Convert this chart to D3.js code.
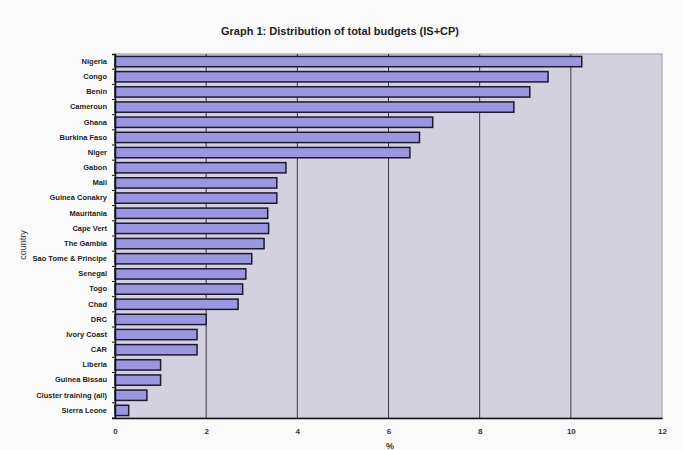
<!DOCTYPE html>
<html><head><meta charset="utf-8">
<script src="https://cdn.jsdelivr.net/npm/d3@7"></script>
<style>body{margin:0;background:#fbfafa;}svg{display:block;font-family:"Liberation Sans",Arial,sans-serif;}</style>
</head><body><svg id="c" width="683" height="450"></svg>
<script>
const countries = ["Nigeria","Congo","Benin","Cameroun","Ghana","Burkina Faso","Niger","Gabon","Mali","Guinea Conakry","Mauritania","Cape Vert","The Gambia","Sao Tome & Principe","Senegal","Togo","Chad","DRC","Ivory Coast","CAR","Liberia","Guinea Bissau","Cluster training (all)","Sierra Leone"];
const values = [10.24,9.5,9.1,8.75,6.97,6.68,6.47,3.75,3.55,3.55,3.35,3.37,3.27,3.0,2.87,2.8,2.7,2.0,1.8,1.8,1.0,1.0,0.7,0.3];
const xTicks = [0,2,4,6,8,10,12];

const svg = d3.select("#c");
const m = {l:115, r:662, t:54, b:418};
const x = d3.scaleLinear().domain([0,12]).range([m.l, m.r]);
const y = d3.scaleBand().domain(countries).range([m.t, m.b]).paddingInner(0.32).paddingOuter(0.16);

svg.append("rect").attr("x",0).attr("y",0).attr("width",683).attr("height",450).attr("fill","#fbfafa");
svg.append("rect").attr("x",m.l).attr("y",m.t).attr("width",m.r-m.l).attr("height",m.b-m.t)
  .attr("fill","#d4d1de").attr("stroke","#9a98a4").attr("stroke-width",1);

svg.append("g").selectAll("line").data(xTicks.slice(1,-1)).join("line")
  .attr("x1",d=>x(d)).attr("x2",d=>x(d)).attr("y1",m.t).attr("y2",m.b)
  .attr("stroke","#3a3a44").attr("stroke-width",1);

svg.append("g").selectAll("rect").data(countries).join("rect")
  .attr("x",x(0)).attr("y",d=>y(d)).attr("height",y.bandwidth())
  .attr("width",(d,i)=>x(values[i])-x(0))
  .attr("fill","#9b97de").attr("stroke","#1c1a30").attr("stroke-width",1.5);

const xa = svg.append("g").attr("transform",`translate(0,${m.b})`)
  .call(d3.axisBottom(x).tickValues(xTicks).tickSize(0).tickPadding(10));
xa.select(".domain").attr("stroke","#111").attr("stroke-width",1.5);
xa.selectAll("text").attr("font-size",8).attr("font-weight","bold").attr("fill","#333").attr("font-family","Liberation Sans, Arial");

const ya = svg.append("g").attr("transform",`translate(${m.l},0)`)
  .call(d3.axisLeft(y).tickSize(3).tickPadding(5));
ya.select(".domain").attr("stroke","#111").attr("stroke-width",1.5);
ya.selectAll(".tick line").attr("stroke","#111").attr("transform",`translate(0,${y.step()/2})`);
ya.selectAll("text").attr("font-size",7.5).attr("font-weight","bold").attr("fill","#222").attr("font-family","Liberation Sans Narrow, Liberation Sans, Arial");

svg.append("text").attr("x",340).attr("y",35).attr("text-anchor","middle")
  .attr("font-size",11).attr("font-weight","bold").attr("fill","#222")
  .text("Graph 1: Distribution of total budgets (IS+CP)");
svg.append("text").attr("transform","translate(26,245) rotate(-90)").attr("text-anchor","middle")
  .attr("font-size",9).attr("fill","#333").text("country");
svg.append("text").attr("x",390).attr("y",449).attr("text-anchor","middle")
  .attr("font-size",9).attr("font-weight","bold").attr("fill","#333").text("%");
</script></body></html>
